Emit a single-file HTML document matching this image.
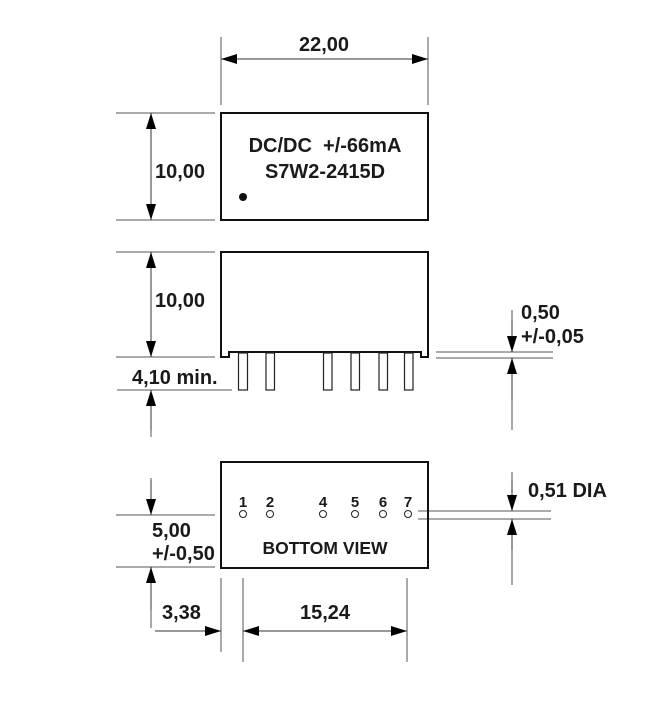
<!DOCTYPE html>
<html><head><meta charset="utf-8"><style>
html,body{margin:0;padding:0;background:#fff;}
svg{display:block;}
text{font-family:"Liberation Sans",Arial,sans-serif;font-weight:bold;fill:#1a1a1a;}
</style></head><body>
<svg width="652" height="701" viewBox="0 0 652 701" xmlns="http://www.w3.org/2000/svg">
<defs>
<marker id="a" viewBox="0 0 16 10" refX="16" refY="5" markerWidth="16" markerHeight="10" markerUnits="userSpaceOnUse" orient="auto"><path d="M0,0 L16,5 L0,10 z" fill="#000"/></marker>
</defs>
<g stroke="#555" stroke-width="1" fill="none">
<line x1="221" y1="37" x2="221" y2="105"/>
<line x1="428" y1="37" x2="428" y2="105"/>
<line x1="116" y1="113" x2="215" y2="113"/>
<line x1="116" y1="220" x2="215" y2="220"/>
<line x1="116" y1="252" x2="215" y2="252"/>
<line x1="116" y1="357" x2="215" y2="357"/>
<line x1="117" y1="390" x2="232" y2="390"/>
<line x1="151" y1="390" x2="151" y2="437"/>
<line x1="436" y1="352" x2="553" y2="352"/>
<line x1="436" y1="358" x2="553" y2="358"/>
<line x1="512" y1="310" x2="512" y2="352"/>
<line x1="512" y1="358" x2="512" y2="430"/>
<line x1="116" y1="515" x2="215" y2="515"/>
<line x1="116" y1="567" x2="215" y2="567"/>
<line x1="151" y1="478" x2="151" y2="515"/>
<line x1="151" y1="567" x2="151" y2="628"/>
<line x1="221" y1="578" x2="221" y2="652"/>
<line x1="243" y1="578" x2="243" y2="662"/>
<line x1="407" y1="578" x2="407" y2="662"/>
<line x1="418" y1="511" x2="551" y2="511"/>
<line x1="418" y1="519" x2="551" y2="519"/>
<line x1="512" y1="472" x2="512" y2="511"/>
<line x1="512" y1="519" x2="512" y2="585"/>
</g>
<g stroke="#333" stroke-width="1" fill="none">
<line x1="324" y1="59" x2="221" y2="59" marker-end="url(#a)"/>
<line x1="324" y1="59" x2="428" y2="59" marker-end="url(#a)"/>
<line x1="151" y1="166" x2="151" y2="113" marker-end="url(#a)"/>
<line x1="151" y1="166" x2="151" y2="220" marker-end="url(#a)"/>
<line x1="151" y1="304" x2="151" y2="252" marker-end="url(#a)"/>
<line x1="151" y1="304" x2="151" y2="357" marker-end="url(#a)"/>
<line x1="151" y1="430" x2="151" y2="390" marker-end="url(#a)"/>
<line x1="512" y1="320" x2="512" y2="352" marker-end="url(#a)"/>
<line x1="512" y1="400" x2="512" y2="358" marker-end="url(#a)"/>
<line x1="151" y1="480" x2="151" y2="515" marker-end="url(#a)"/>
<line x1="151" y1="610" x2="151" y2="567" marker-end="url(#a)"/>
<line x1="155" y1="631" x2="221" y2="631" marker-end="url(#a)"/>
<line x1="325" y1="631" x2="243" y2="631" marker-end="url(#a)"/>
<line x1="325" y1="631" x2="407" y2="631" marker-end="url(#a)"/>
<line x1="512" y1="480" x2="512" y2="511" marker-end="url(#a)"/>
<line x1="512" y1="550" x2="512" y2="519" marker-end="url(#a)"/>
</g>
<rect x="221" y="113" width="207" height="107" fill="none" stroke="#111" stroke-width="2"/>
<circle cx="243" cy="197" r="4" fill="#111"/>
<path d="M221,357 L221,252 L428,252 L428,357 L421,357 L421,352 L229,352 L229,357 Z" fill="none" stroke="#111" stroke-width="2"/>
<g fill="#fff" stroke="#222" stroke-width="1.2">
<rect x="238.5" y="353" width="9" height="37"/>
<rect x="266" y="353" width="8.5" height="37"/>
<rect x="323.5" y="353" width="8.5" height="37"/>
<rect x="351" y="353" width="8.5" height="37"/>
<rect x="379" y="353" width="8.5" height="37"/>
<rect x="404.5" y="353" width="8.5" height="37"/>
</g>
<rect x="221" y="462" width="207" height="106" fill="none" stroke="#111" stroke-width="2"/>
<g fill="#fff" stroke="#222" stroke-width="1">
<circle cx="243" cy="514" r="3.5"/><circle cx="270" cy="514" r="3.5"/><circle cx="323" cy="514" r="3.5"/>
<circle cx="355" cy="514" r="3.5"/><circle cx="383" cy="514" r="3.5"/><circle cx="408" cy="514" r="3.5"/>
</g>
<g font-size="15" text-anchor="middle">
<text x="243" y="507">1</text><text x="270" y="507">2</text><text x="323" y="507">4</text>
<text x="355" y="507">5</text><text x="383" y="507">6</text><text x="408" y="507">7</text>
</g>
<g font-size="20">
<text x="324" y="51" text-anchor="middle">22,00</text>
<text x="325" y="152" text-anchor="middle" xml:space="preserve">DC/DC  +/-66mA</text>
<text x="325" y="178" text-anchor="middle">S7W2-2415D</text>
<text x="155" y="178">10,00</text>
<text x="155" y="307">10,00</text>
<text x="132" y="384">4,10 min.</text>
<text x="521" y="319">0,50</text>
<text x="521" y="343">+/-0,05</text>
<text x="528" y="497">0,51 DIA</text>
<text x="152" y="537">5,00</text>
<text x="152" y="560">+/-0,50</text>
<text x="162" y="619">3,38</text>
<text x="325" y="619" text-anchor="middle">15,24</text>
</g>
<text x="325" y="554" font-size="17.5" text-anchor="middle">BOTTOM VIEW</text>
</svg>
</body></html>
